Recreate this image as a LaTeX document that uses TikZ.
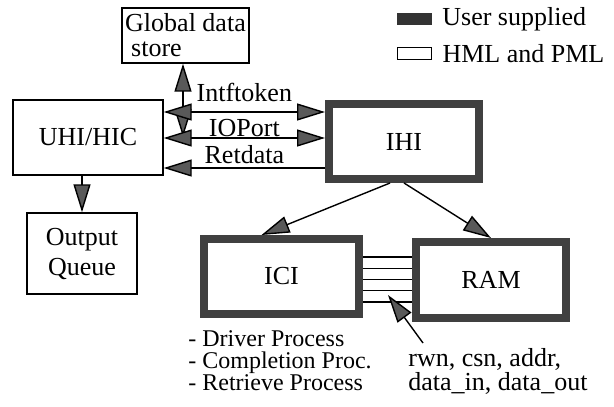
\documentclass[tikz,border=0pt]{standalone}
\usepackage{fontspec}
\setmainfont{Liberation Serif}
\usetikzlibrary{arrows.meta,positioning}

\newcommand\tightlines{\lineskiplimit=-10pt\relax}

\begin{document}
\begin{tikzpicture}[
  x=0.5pt,y=-0.5pt,
  every node/.style={font=\fontsize{13}{14}\selectfont},
  hml/.style={draw,line width=0.7pt,inner sep=1pt},
  usr/.style={draw=black!75,line width=4pt,inner sep=1pt},
  edge/.style={line width=0.7pt},
  bus/.style={line width=0.6pt},
  lbl/.style={inner sep=0.5pt},
  >={Triangle[length=14pt,width=8.5pt,fill=black!65]}
]
  \useasboundingbox (0,0) rectangle (614,406);

  \node[hml,minimum width=63.5pt,minimum height=27.5pt,align=left,
    font=\fontsize{13}{12.5}\selectfont\tightlines] (glob) at (185.5,35.5) {Global data\\\hspace*{3pt}store};
  \node[hml,minimum width=75pt,minimum height=37.5pt] (uhi) at (88,137.5) {UHI/HIC};
  \node[hml,minimum width=55pt,minimum height=40.5pt,align=center,
    font=\fontsize{13}{15}\selectfont] (outq) at (82,253.5) {Output\\Queue};
  \node[usr,minimum width=75pt,minimum height=37.5pt] (ihi) at (404,141.5) {IHI};
  \node[usr,minimum width=77.5pt,minimum height=37.5pt] (ici) at (281.5,276.5) {ICI};
  \node[usr,minimum width=75pt,minimum height=38pt] (ram) at (491,280) {RAM};

  \node[draw=black!80,line width=3.5pt,inner sep=0pt,minimum width=14pt,minimum height=2.5pt] (usrkey) at (414.5,19) {};
  \node[right=4pt of usrkey,inner sep=1pt] (usrtxt) {User supplied};
  \node[hml,inner sep=0pt,minimum width=17pt,minimum height=6pt] (hmlkey) at (414.5,53.5) {};
  \node[right=4pt of hmlkey,inner sep=1pt] (hmltxt) {HML and PML};

  \coordinate (gend) at (183,137);
  \draw[edge,<->] (glob.south -| gend) -- (gend);
  \draw[edge,<->] (uhi.east |- 0,112) -- node[lbl,above=4.3pt]{Intftoken} (ihi.west |- 0,112);
  \draw[edge,<->] (uhi.east |- 0,138) -- node[lbl,above=0pt]{IOPort} (ihi.west |- 0,138);
  \draw[edge,->] (ihi.west |- 0,168) -- node[lbl,above=1.5pt]{Retdata} (uhi.east |- 0,168);
  \draw[edge,->] (uhi.south -| outq.north) -- (outq.north);
  \draw[edge,->] ([xshift=-7pt]ihi.south) -- ([xshift=-10pt]ici.north);
  \draw[edge,->] (ihi.south) -- (ram.north);

  \foreach \y in {257,268.25,279.5,290.75,302}
    \draw[bus] (ici.east |- 0,\y) -- (ram.west |- 0,\y);

  \coordinate (bustail) at (423,343);
  \coordinate (bustip) at (388,295);
  \draw[edge,->] (bustail) -- (bustip);

  \node[anchor=north west,align=left,inner sep=2pt,
    font=\fontsize{12}{11}\selectfont\tightlines] (procs) at (184,326)
    {- Driver Process\\- Completion Proc.\\- Retrieve Process};
  \node[anchor=north west,align=left,inner sep=2pt,
    font=\fontsize{13}{12}\selectfont\tightlines] (sigs) at (404,344)
    {rwn, csn, addr,\\data\_in, data\_out};
\end{tikzpicture}
\end{document}
